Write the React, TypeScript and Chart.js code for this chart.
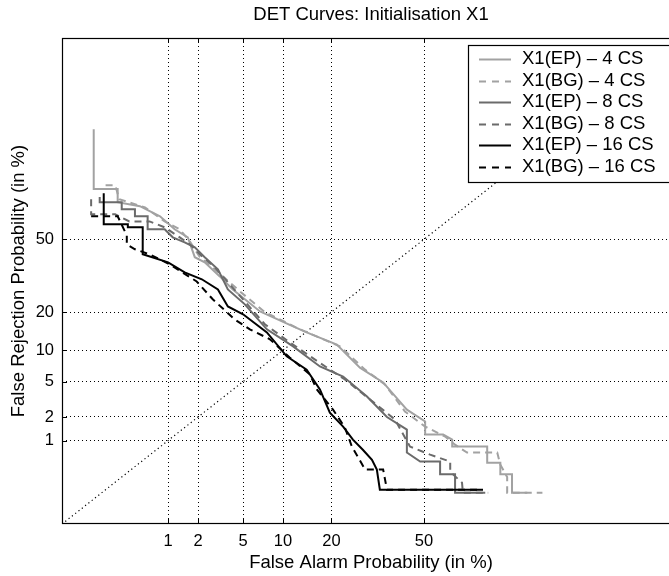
import React, { useEffect, useRef } from 'react';
import { Chart, registerables } from 'chart.js';

Chart.register(...registerables);

// ---- axis setup (values in %) ----
const tickPercents = [1, 2, 5, 10, 20, 50];
const tickLabels = ['1', '2', '5', '10', '20', '50'];
const axisMinPct = 0.05;
const axisMaxPct = 99;

const chartTitle = 'DET Curves: Initialisation X1';
const xTitle = 'False Alarm Probability (in %)';
const yTitle = 'False Rejection Probability (in %)';

// ---- series (False Alarm %, False Rejection %) ----
const seriesNames = [
  'X1(EP) – 4 CS',
  'X1(BG) – 4 CS',
  'X1(EP) – 8 CS',
  'X1(BG) – 8 CS',
  'X1(EP) – 16 CS',
  'X1(BG) – 16 CS',
];

const ep4FA = [0.134, 0.134, 0.268, 0.268, 0.49, 0.82, 1.17, 1.59, 1.86, 2.31, 3.17, 4.11, 6.8, 11.7, 14.3, 21.4, 28.0, 35.5, 43.8, 50.4, 50.4, 56.9, 60.1, 60.1, 71.7, 71.7, 75.6, 75.6, 78.8, 78.8, 82.6];
const ep4FR = [89.85, 71.9, 71.9, 66.6, 64.9, 60.5, 54.6, 50.9, 41.8, 39.5, 33.4, 28.1, 20.2, 15.7, 14.1, 11.2, 6.9, 4.9, 2.45, 1.76, 1.2, 1.2, 1.03, 0.83, 0.83, 0.49, 0.49, 0.33, 0.33, 0.17, 0.17];

const bg4FA = [0.19, 0.25, 0.28, 0.56, 0.92, 1.32, 1.66, 2.08, 2.87, 4.7, 7.4, 12.97, 22.2, 29.6, 36.1, 43.1, 50.4, 57.6, 61.1, 65.2, 74.7, 75.6, 77.5, 77.5, 85.9];
const bg4FR = [73.4, 73.4, 67.8, 64.4, 58.2, 54.6, 49.1, 41.8, 36.4, 27.4, 20, 14.9, 10.8, 6.6, 4.67, 2.33, 1.52, 1.13, 0.88, 0.685, 0.685, 0.46, 0.3, 0.17, 0.17];

const ep8FA = [0.16, 0.16, 0.3, 0.3, 0.43, 0.43, 0.6, 0.6, 0.92, 1.12, 1.48, 1.86, 2.31, 3.05, 3.73, 5.17, 7.66, 11.7, 17.2, 23.1, 30.2, 36.8, 43.8, 43.8, 48.6, 55.8, 55.8, 61.1, 61.1, 71.1];
const ep8FR = [68.7, 66.6, 66.6, 63.6, 63.6, 60.5, 60.5, 54.6, 54.6, 50.9, 48.6, 46.3, 41.8, 36.4, 28.1, 22.6, 14.9, 10.8, 7.08, 5.64, 3.46, 2.0, 1.39, 0.685, 0.51, 0.51, 0.33, 0.33, 0.17, 0.17];

const bg8FA = [0.124, 0.124, 0.25, 0.37, 0.63, 0.92, 1.32, 1.66, 2.08, 2.87, 3.88, 5.17, 7.4, 11.1, 16.7, 23.6, 31.2, 39.6, 44.9, 52.2, 59.4, 59.4, 63.5, 63.8, 72.0];
const bg8FR = [67.8, 61.4, 61.4, 58.2, 58.2, 55.5, 50.9, 47.7, 43.1, 37.3, 30.1, 23.6, 16.3, 11.7, 7.9, 5.26, 3.2, 1.86, 0.83, 0.64, 0.51, 0.36, 0.245, 0.17, 0.17];

const ep16FA = [0.18, 0.18, 0.355, 0.355, 0.528, 0.528, 1.0, 1.48, 2.17, 3.05, 3.73, 5.0, 7.66, 10.6, 14.3, 17.2, 19.6, 23.1, 25.9, 28.9, 31.8, 33.4, 34.4, 70.4];
const ep16FR = [70.3, 56.9, 56.9, 55.5, 55.5, 43.1, 39.5, 35.1, 32.2, 28.1, 21.9, 19.3, 14.1, 8.8, 6.6, 4.13, 2.26, 1.52, 1.03, 0.75, 0.54, 0.39, 0.19, 0.19];

const bg16FA = [0.124, 0.268, 0.345, 0.345, 0.43, 0.63, 1.04, 1.94, 2.74, 4.27, 5.67, 8.06, 11.1, 14.98, 16.5, 20.4, 23.6, 25.6, 29.6, 35.5, 36.8, 69.5];
const bg16FR = [60.5, 60.5, 51.8, 47.7, 45.4, 43.1, 38.6, 31.3, 24.4, 17.7, 14.9, 12.4, 8.6, 5.9, 4.13, 2.45, 1.48, 0.83, 0.39, 0.39, 0.19, 0.19];

const seriesFA = [ep4FA, bg4FA, ep8FA, bg8FA, ep16FA, bg16FA];
const seriesFR = [ep4FR, bg4FR, ep8FR, bg8FR, ep16FR, bg16FR];
const seriesColors = ['#a2a2a2', '#a2a2a2', '#6b6b6b', '#6b6b6b', '#000000', '#000000'];
const seriesDashed = [false, true, false, true, false, true];

const FONT = '"Liberation Sans", Arial, Helvetica, sans-serif';

// inverse standard normal CDF (Acklam)
function probit(p: number): number {
  const a = [-3.969683028665376e1, 2.209460984245205e2, -2.759285104469687e2, 1.38357751867269e2, -3.066479806614716e1, 2.506628277459239];
  const b = [-5.447609879822406e1, 1.615858368580409e2, -1.556989798598866e2, 6.680131188771972e1, -1.328068155288572e1];
  const c = [-7.784894002430293e-3, -3.223964580411365e-1, -2.400758277161838, -2.549671348608281, 4.374664141464968, 2.938163982698783];
  const d = [7.784695709041462e-3, 3.224671290700398e-1, 2.445134137142996, 3.754408661907416];
  const pl = 0.02425;
  if (p < pl) {
    const q = Math.sqrt(-2 * Math.log(p));
    return (((((c[0] * q + c[1]) * q + c[2]) * q + c[3]) * q + c[4]) * q + c[5]) / ((((d[0] * q + d[1]) * q + d[2]) * q + d[3]) * q + 1);
  }
  if (p <= 1 - pl) {
    const q = p - 0.5;
    const r = q * q;
    return ((((((a[0] * r + a[1]) * r + a[2]) * r + a[3]) * r + a[4]) * r + a[5]) * q) / (((((b[0] * r + b[1]) * r + b[2]) * r + b[3]) * r + b[4]) * r + 1);
  }
  const q = Math.sqrt(-2 * Math.log(1 - p));
  return -(((((c[0] * q + c[1]) * q + c[2]) * q + c[3]) * q + c[4]) * q + c[5]) / ((((d[0] * q + d[1]) * q + d[2]) * q + d[3]) * q + 1);
}

const pz = (pct: number) => probit(pct / 100);

const framePlugin = {
  id: 'detFrame',
  afterDatasetsDraw(chart: any) {
    const { ctx, chartArea, scales } = chart;
    const { left, right, top, bottom } = chartArea;
    ctx.save();
    ctx.strokeStyle = '#000';
    ctx.lineWidth = 1.2;
    ctx.setLineDash([]);
    ctx.strokeRect(left + 0.5, top + 0.5, right - left - 1, bottom - top - 1);
    const tl = 5;
    ctx.lineWidth = 1;
    ctx.beginPath();
    tickPercents.forEach((p) => {
      const x = Math.round(scales.x.getPixelForValue(pz(p))) + 0.5;
      ctx.moveTo(x, bottom);
      ctx.lineTo(x, bottom - tl);
      ctx.moveTo(x, top);
      ctx.lineTo(x, top + tl);
      const y = Math.round(scales.y.getPixelForValue(pz(p))) + 0.5;
      ctx.moveTo(left, y);
      ctx.lineTo(left + tl, y);
      ctx.moveTo(right, y);
      ctx.lineTo(right - tl, y);
    });
    ctx.stroke();
    ctx.restore();
  },
  afterDraw(chart: any) {
    const { ctx, chartArea } = chart;
    ctx.save();
    ctx.fillStyle = '#000';
    ctx.font = `18.5px ${FONT}`;
    ctx.textAlign = 'center';
    ctx.textBaseline = 'middle';
    ctx.fillText(chartTitle, (chartArea.left + chartArea.right) / 2, 15);

    // legend
    const bx = 468;
    const by = 45;
    const bw = 220;
    const bh = 137;
    ctx.fillStyle = '#fff';
    ctx.fillRect(bx, by, bw, bh);
    ctx.strokeStyle = '#000';
    ctx.lineWidth = 1.2;
    ctx.strokeRect(bx + 0.5, by + 0.5, bw, bh);
    ctx.font = `18.5px ${FONT}`;
    ctx.textAlign = 'left';
    ctx.textBaseline = 'middle';
    seriesNames.forEach((name, i) => {
      const y = 59 + i * 21.6;
      ctx.strokeStyle = seriesColors[i];
      ctx.lineWidth = 2;
      ctx.setLineDash(seriesDashed[i] ? [7, 6] : []);
      ctx.beginPath();
      ctx.moveTo(479, Math.round(y) + 0.5);
      ctx.lineTo(511, Math.round(y) + 0.5);
      ctx.stroke();
      ctx.setLineDash([]);
      ctx.fillStyle = '#000';
      ctx.fillText(name, 522, y);
    });
    ctx.restore();
  },
};

export default function App() {
  const canvasRef = useRef<HTMLCanvasElement | null>(null);

  useEffect(() => {
    if (!canvasRef.current) return;
    const zMin = pz(axisMinPct);
    const zMax = pz(axisMaxPct);

    const datasets: any[] = seriesNames.map((name, i) => ({
      label: name,
      data: seriesFA[i].map((fa, k) => ({ x: pz(fa), y: pz(seriesFR[i][k]) })),
      borderColor: seriesColors[i],
      borderWidth: 2,
      borderDash: seriesDashed[i] ? [7, 5] : [],
      pointRadius: 0,
      tension: 0,
      fill: false,
      order: 5 - i,
    }));
    datasets.push({
      label: 'diag',
      data: [
        { x: zMin, y: zMin },
        { x: zMax, y: zMax },
      ],
      borderColor: '#000',
      borderWidth: 1.2,
      borderDash: [1.2, 3],
      pointRadius: 0,
      fill: false,
      order: 10,
    });

    const tickFont = { family: FONT, size: 16.5 };
    const titleFont = { family: FONT, size: 18.5 };

    const chart = new Chart(canvasRef.current, {
      type: 'line',
      data: { datasets },
      plugins: [framePlugin],
      options: {
        responsive: false,
        animation: false,
        events: [],
        layout: { padding: { left: 0, top: 38, right: 20, bottom: 0 } },
        plugins: {
          legend: { display: false },
          tooltip: { enabled: false },
          title: { display: false },
        },
        scales: {
          x: {
            type: 'linear',
            min: zMin,
            max: zMax,
            afterBuildTicks: (s: any) => {
              s.ticks = tickPercents.map((p) => ({ value: pz(p) }));
            },
            afterFit: (s: any) => {
              s.height = 52;
            },
            ticks: {
              autoSkip: false,
              maxRotation: 0,
              padding: 8,
              color: '#000',
              font: tickFont,
              callback: (_v: any, i: number) => tickLabels[i],
            },
            grid: { color: '#000', lineWidth: 1, drawTicks: false },
            border: { display: false, dash: [1, 3] },
            title: { display: true, text: xTitle, color: '#000', font: titleFont, padding: { top: 0, bottom: 2 } },
          },
          y: {
            type: 'linear',
            min: zMin,
            max: zMax,
            afterBuildTicks: (s: any) => {
              s.ticks = tickPercents.map((p) => ({ value: pz(p) }));
            },
            afterFit: (s: any) => {
              s.width = 62;
            },
            ticks: {
              autoSkip: false,
              padding: 8,
              color: '#000',
              font: tickFont,
              callback: (_v: any, i: number) => tickLabels[i],
            },
            grid: { color: '#000', lineWidth: 1, drawTicks: false },
            border: { display: false, dash: [1, 3] },
            title: { display: true, text: yTitle, color: '#000', font: titleFont, padding: { top: 8, bottom: 0 } },
          },
        },
      } as any,
    });
    return () => chart.destroy();
  }, []);

  return (
    <div
      style={{
        position: 'fixed',
        left: 0,
        top: 0,
        width: 669,
        height: 576,
        overflow: 'hidden',
        background: '#fff',
      }}
    >
      <canvas ref={canvasRef} width={700} height={576} style={{ display: 'block', width: 700, height: 576 }} />
    </div>
  );
}
